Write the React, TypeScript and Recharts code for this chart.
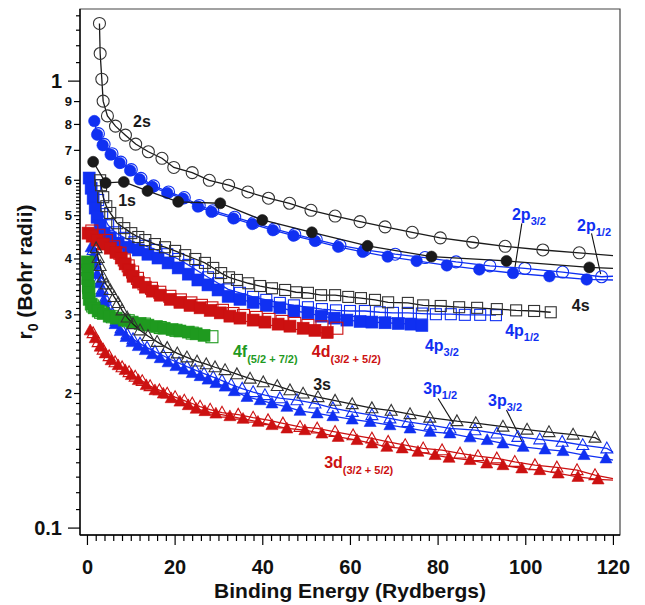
import React from 'react';
import { ScatterChart, Scatter, XAxis, YAxis, ReferenceArea, ReferenceDot, ReferenceLine } from 'recharts';

type P = [number, number];

const X_DOMAIN: [number, number] = [-1.7, 121.5];
const Y_DOMAIN: [number, number] = [0.0965, 1.45];

const xTicks: number[] = Array.from({ length: 61 }, (_, i) => i * 2);
const xMajor: number[] = [0, 20, 40, 60, 80, 100, 120];
const yTicks: number[] = [
  ...Array.from({ length: 51 }, (_, i) => (10 + i) / 100),
  0.7, 0.8, 0.9, 1, 1.1, 1.2, 1.3, 1.4,
];
const yLabelText: Record<number, string> = {
  10: '0.1', 20: '2', 30: '3', 40: '4', 50: '5', 60: '6', 70: '7', 80: '8', 90: '9', 100: '1',
};

// ---- series (Binding energy [Ry], r0 [Bohr radii]) ----
const s2: P[] = [[2.74,1.346],[2.9,1.153],[3.28,1.01],[3.58,0.902],[4.56,0.836],[6.4,0.793],[8.67,0.757],[11.0,0.723],[13.9,0.695],[17.0,0.672],[19.7,0.641],[23.9,0.624],[27.8,0.600],[32.2,0.585],[36.6,0.565],[41.3,0.547],[46.1,0.533],[51.0,0.514],[56.5,0.499],[62.2,0.485],[67.9,0.472],[74.1,0.459],[80.5,0.446],[87.9,0.436],[95.3,0.427],[103.9,0.419],[112.2,0.413]];
const s1: P[] = [[1.3,0.660],[4.15,0.592],[8.3,0.595],[13.7,0.568],[20.7,0.537],[30.3,0.533],[39.9,0.489],[51.2,0.459],[63.9,0.428],[78.5,0.405],[95.6,0.396],[114.5,0.383]];
const p2_32: P[] = [[1.57,0.814],[2.21,0.759],[3.47,0.719],[5.29,0.685],[7.34,0.656],[9.74,0.631],[11.9,0.603],[14.8,0.580],[18.2,0.562],[21.8,0.546],[25.2,0.524],[28.3,0.510],[33.3,0.493],[37.6,0.479],[42.3,0.464],[47.0,0.451],[51.9,0.439],[57.2,0.426],[62.8,0.415],[68.5,0.405],[75.1,0.396],[82.0,0.387],[89.4,0.379],[97.1,0.372],[105.4,0.366],[113.9,0.360]];
const p2_12: P[] = [[2.5,0.763],[3.8,0.722],[5.6,0.688],[7.6,0.659],[10.0,0.634],[12.2,0.606],[15.1,0.583],[18.5,0.565],[22.1,0.549],[25.5,0.527],[28.6,0.513],[33.6,0.496],[37.9,0.482],[42.6,0.467],[47.3,0.454],[52.2,0.442],[57.6,0.429],[63.3,0.419],[70.2,0.410],[77.0,0.403],[84.1,0.394],[91.8,0.386],[99.8,0.381],[108.4,0.374],[117.3,0.365]];
const s4: P[] = [[2.9,0.600],[3.1,0.585],[3.6,0.550],[4.3,0.525],[5.2,0.507],[6.8,0.481],[8.4,0.469],[10.0,0.457],[11.6,0.448],[13.2,0.441],[15.4,0.432],[17.7,0.425],[20.0,0.417],[22.3,0.408],[24.6,0.400],[26.8,0.392],[28.7,0.382],[30.5,0.372],[32.3,0.364],[34.1,0.359],[36.7,0.353],[39.4,0.348],[42.1,0.344],[45.1,0.341],[47.6,0.337],[50.3,0.336],[53.3,0.332],[56.5,0.332],[59.5,0.329],[62.4,0.327],[65.6,0.324],[68.6,0.320],[73.1,0.319],[76.6,0.315],[80.6,0.314],[84.8,0.312],[88.9,0.311],[93.4,0.309],[97.8,0.307],[101.9,0.306],[105.7,0.304]];
const p4_12: P[] = [[1.76,0.585],[2.44,0.542],[3.35,0.504],[4.72,0.476],[6.3,0.459],[8.4,0.446],[10.7,0.436],[13.2,0.428],[15.7,0.419],[18.2,0.410],[20.7,0.400],[23.0,0.388],[25.2,0.376],[27.5,0.364],[29.8,0.353],[32.1,0.342],[34.8,0.336],[37.8,0.329],[40.8,0.324],[43.9,0.319],[47.1,0.315],[50.3,0.312],[53.5,0.309],[56.7,0.307],[59.9,0.306],[63.3,0.306],[66.7,0.304],[69.7,0.303],[73.1,0.303],[76.3,0.302],[79.5,0.301],[82.9,0.301],[86.1,0.300],[89.6,0.300],[93.2,0.2995]];
const p4_32: P[] = [[0.39,0.607],[0.84,0.576],[1.3,0.547],[1.76,0.520],[2.2,0.496],[2.9,0.474],[3.8,0.457],[5.2,0.446],[7.0,0.434],[9.3,0.425],[11.6,0.419],[13.8,0.410],[16.1,0.402],[18.4,0.392],[20.7,0.382],[23.0,0.370],[25.2,0.359],[27.5,0.350],[29.8,0.341],[32.1,0.330],[34.8,0.325],[37.8,0.320],[40.8,0.315],[43.9,0.311],[47.1,0.306],[50.3,0.303],[53.3,0.298],[56.3,0.295],[59.2,0.292],[62.2,0.290],[64.9,0.289],[67.9,0.288],[70.9,0.287],[73.8,0.286],[76.3,0.284]];
const d4_filled: P[] = [[0.16,0.457],[1.07,0.450],[2.2,0.441],[3.6,0.432],[5.2,0.423],[6.5,0.414],[7.7,0.402],[8.6,0.390],[9.5,0.378],[10.4,0.366],[11.6,0.355],[13.2,0.346],[14.8,0.339],[16.6,0.332],[18.9,0.325],[21.1,0.320],[23.4,0.315],[25.7,0.311],[28.0,0.307],[30.3,0.303],[32.5,0.298],[34.8,0.295],[37.8,0.292],[40.5,0.289],[43.5,0.286],[46.2,0.283],[49.2,0.280],[51.9,0.277],[54.7,0.274]];
const d4_open: P[] = [[1.0,0.462],[2.6,0.452],[4.3,0.440],[6.0,0.426],[7.4,0.412],[8.4,0.398],[9.3,0.386],[10.3,0.374],[11.4,0.362],[12.9,0.352],[14.6,0.344],[16.5,0.337],[18.8,0.330],[21.2,0.324],[23.6,0.319],[26.0,0.315],[28.4,0.311],[30.8,0.307],[33.2,0.302],[35.6,0.299],[38.5,0.296],[41.4,0.293],[44.4,0.290],[47.3,0.287],[50.3,0.284],[53.5,0.282],[56.9,0.280]];
const f4_filled: P[] = [[0.0,0.394],[0.0,0.378],[0.05,0.362],[0.16,0.348],[0.27,0.336],[0.39,0.325],[0.84,0.317],[1.53,0.311],[2.44,0.306],[3.58,0.302],[4.95,0.298],[6.55,0.295],[8.4,0.292],[10.2,0.289],[12.0,0.287],[13.8,0.2845],[15.7,0.2825],[17.5,0.280],[19.3,0.278],[21.1,0.276],[23.0,0.2745],[24.8,0.272],[26.6,0.270]];
const f4_open: P[] = [[0.1,0.390],[0.3,0.345],[1.2,0.314],[3.0,0.304],[5.7,0.297],[9.3,0.291],[13.0,0.286],[16.6,0.281],[20.2,0.277],[23.9,0.273],[28.4,0.268]];
const s3: P[] = [[1.98,0.423],[2.44,0.402],[2.9,0.386],[3.58,0.364],[4.26,0.351],[5.18,0.341],[6.09,0.329],[7.0,0.319],[7.9,0.307],[9.05,0.296],[10.4,0.286],[12.0,0.277],[13.8,0.269],[15.9,0.261],[18.2,0.253],[20.5,0.246],[22.7,0.241],[25.0,0.236],[27.1,0.2326],[29.1,0.229],[31.4,0.2257],[34.1,0.221],[37.1,0.216],[40.1,0.212],[43.3,0.208],[46.2,0.2035],[49.2,0.200],[52.6,0.1964],[56.5,0.1928],[60.4,0.1894],[64.9,0.1855],[69.3,0.1831],[73.6,0.1799],[78.1,0.1767],[84.3,0.1735],[88.6,0.1718],[94.8,0.1687],[100.3,0.1661],[105.3,0.1640],[110.8,0.1619],[115.8,0.1594]];
const p3_12: P[] = [[1.3,0.419],[1.76,0.398],[2.2,0.378],[2.67,0.3606],[3.35,0.342],[4.04,0.327],[4.72,0.3137],[5.63,0.301],[6.55,0.2904],[7.7,0.280],[9.05,0.2716],[10.4,0.2647],[12.0,0.2587],[13.6,0.2534],[15.4,0.2482],[17.3,0.243],[19.1,0.238],[20.9,0.2339],[22.7,0.2297],[24.6,0.2257],[26.6,0.2217],[28.7,0.2177],[30.7,0.2138],[32.8,0.2094],[35.3,0.2051],[37.8,0.2015],[40.5,0.1984],[43.9,0.1953],[47.8,0.1933],[51.9,0.1901],[56.0,0.1855],[60.4,0.182],[64.9,0.179],[69.0,0.176],[73.1,0.1728],[78.2,0.1699],[82.7,0.1671],[88.4,0.1656],[93.4,0.1628],[98.2,0.160],[103.2,0.158],[108.3,0.156],[113.0,0.1534],[118.5,0.1508]];
const p3_32: P[] = [[0.84,0.425],[1.3,0.406],[1.76,0.388],[2.2,0.370],[2.67,0.353],[3.12,0.337],[3.8,0.322],[4.5,0.309],[5.4,0.296],[6.3,0.286],[7.46,0.276],[8.8,0.2676],[10.2,0.2607],[11.6,0.2554],[13.2,0.2502],[14.8,0.245],[16.6,0.240],[18.4,0.235],[20.2,0.2304],[22.0,0.2263],[23.9,0.2223],[25.7,0.2188],[27.5,0.2149],[29.3,0.2111],[31.4,0.2073],[33.5,0.2025],[36.4,0.1966],[39.4,0.1933],[42.1,0.1901],[45.5,0.1868],[48.5,0.1830],[52.4,0.1806],[56.0,0.1780],[60.4,0.1750],[64.5,0.1728],[69.0,0.1699],[73.6,0.1671],[78.2,0.1642],[82.7,0.1629],[87.3,0.1596],[91.2,0.1574],[94.8,0.1547],[99.4,0.152],[104.4,0.150],[108.5,0.1487],[113.3,0.1457],[118.3,0.1432]];
const d3_filled: P[] = [[0.62,0.277],[1.76,0.266],[2.9,0.2547],[4.04,0.246],[5.4,0.2375],[7.0,0.2315],[8.6,0.2257],[10.0,0.22],[11.6,0.2144],[13.4,0.2089],[15.4,0.2035],[17.3,0.200],[19.1,0.1953],[21.1,0.1919],[23.0,0.1884],[24.8,0.185],[26.8,0.1827],[29.3,0.1804],[32.5,0.178],[35.5,0.1756],[38.9,0.1729],[42.1,0.170],[45.5,0.1671],[49.6,0.1656],[53.5,0.1628],[57.2,0.160],[61.5,0.1574],[64.9,0.1547],[68.3,0.1520],[71.8,0.1508],[75.4,0.1482],[79.3,0.1457],[82.5,0.1437],[87.3,0.142],[91.1,0.1395],[94.8,0.1383],[99.1,0.136],[103.2,0.1348],[107.4,0.1325],[111.9,0.1302],[116.5,0.1285]];
const d3_open: P[] = [[1.3,0.273],[2.44,0.2607],[3.58,0.2508],[4.95,0.2425],[6.3,0.235],[7.9,0.229],[9.5,0.2234],[10.9,0.2183],[12.5,0.2133],[14.3,0.2078],[16.4,0.2035],[18.2,0.200],[20.0,0.1964],[22.1,0.1929],[23.9,0.190],[25.7,0.1870],[28.0,0.1841],[30.7,0.1813],[34.4,0.1794],[37.8,0.1767],[41.2,0.1744],[44.6,0.1715],[48.5,0.1685],[52.4,0.1671],[56.5,0.1642],[60.6,0.1614],[64.9,0.1587],[68.6,0.156],[72.5,0.1534],[76.6,0.1508],[80.9,0.1494],[85.0,0.1469],[89.1,0.1449],[93.4,0.1432],[97.5,0.1407],[102.1,0.1383],[107.1,0.1367],[111.7,0.1348],[115.8,0.1314]];

// where the fitted curves run on past the last point
const tail2s: P = [119.9, 0.407];
const tail1s: P = [119.9, 0.381];
const tail2p32: P = [119.9, 0.359];
const tail2p12: P = [119.9, 0.366];
const tail3s: P = [116.9, 0.157];
const tail3p12: P = [119.9, 0.148];
const tail3p32: P = [119.9, 0.142];
const tail3dF: P = [119.9, 0.128];
const tail3dO: P = [119.9, 0.129];

const BLACK = '#1a1a1a';
const GRAY = '#333333';
const BLUE = '#1030f2';
const RED = '#cc1111';
const GREEN = '#1f9a1f';
const FONT = '"Liberation Sans", Arial, sans-serif';

type Kind = 'circle' | 'square' | 'triangle';

const toPts = (arr: P[]) => arr.map(([x, y]) => ({ x, y }));

const makeShape = (kind: Kind, color: string, filled: boolean, size: number, bg?: string) => (props: any) => {
  const { cx, cy } = props;
  if (cx == null || cy == null || isNaN(cx) || isNaN(cy)) return <g />;
  const fill = filled ? color : bg || 'none';
  const sw = filled ? 0.6 : 1.1;
  if (kind === 'circle') {
    return <circle cx={cx} cy={cy} r={size / 2} fill={fill} stroke={color} strokeWidth={sw} />;
  }
  if (kind === 'square') {
    const h = size / 2;
    return <rect x={cx - h} y={cy - h} width={size} height={size} fill={fill} stroke={color} strokeWidth={sw} />;
  }
  const h = size * 0.9;
  const pts = `${cx},${cy - h * 0.58} ${cx - size / 2},${cy + h * 0.42} ${cx + size / 2},${cy + h * 0.42}`;
  return <polygon points={pts} fill={fill} stroke={color} strokeWidth={sw} strokeLinejoin="miter" />;
};

const Empty = () => <g />;

const YTick = (props: any) => {
  const { x, y, payload } = props;
  const r = Math.round(payload.value * 100);
  const labelled = r % 10 === 0 && r <= 100;
  const big = r === 10 || r === 100;
  const len = big ? 12 : labelled ? 6 : 4;
  return (
    <g>
      <line x1={x} x2={x - len} y1={y} y2={y} stroke="#000" strokeWidth={1.2} />
      {labelled && (
        <text
          x={x - len - (big ? 6 : 2)}
          y={y}
          dy={big ? 7 : 4.5}
          textAnchor="end"
          fontSize={big ? 20 : 13}
          fontWeight="bold"
          fontFamily={FONT}
          fill="#111"
        >
          {yLabelText[r]}
        </text>
      )}
    </g>
  );
};

const XTick = (props: any) => {
  const { x, y, payload } = props;
  const v = payload.value;
  const major = xMajor.includes(v);
  return (
    <g>
      <line x1={x} x2={x} y1={y} y2={y + (major ? 10 : 6)} stroke="#000" strokeWidth={1.2} />
      {major && (
        <text x={x} y={y + 39} textAnchor="middle" fontSize={20} fontWeight="bold" fontFamily={FONT} fill="#111">
          {v}
        </text>
      )}
    </g>
  );
};

const XTitle = (props: any) => {
  const vb = props.viewBox || { x: 80, y: 535, width: 540, height: 70 };
  return (
    <text x={vb.x + vb.width / 2} y={vb.y + 63} textAnchor="middle" fontSize={21} fontWeight="bold" fontFamily={FONT} fill="#111">
      Binding Energy (Rydbergs)
    </text>
  );
};

const YTitle = (props: any) => {
  const vb = props.viewBox || { x: 0, y: 9, width: 80, height: 526 };
  const cx = vb.x + 32;
  const cy = vb.y + vb.height / 2;
  return (
    <text
      x={cx}
      y={cy}
      transform={`rotate(-90 ${cx} ${cy})`}
      textAnchor="middle"
      fontSize={21}
      fontWeight="bold"
      fontFamily={FONT}
      fill="#111"
    >
      <tspan>r</tspan>
      <tspan fontSize={14} dy={6}>0</tspan>
      <tspan dy={-6}> (Bohr radii)</tspan>
    </text>
  );
};

const annotations = [
  { x: 10.42, y: 0.789, text: '2s', sub: '', color: BLACK },
  { x: 7.0, y: 0.525, text: '1s', sub: '', color: BLACK },
  { x: 96.85, y: 0.489, text: '2p', sub: '3/2', color: BLUE },
  { x: 111.7, y: 0.462, text: '2p', sub: '1/2', color: BLUE },
  { x: 110.5, y: 0.306, text: '4s', sub: '', color: BLACK },
  { x: 95.3, y: 0.269, text: '4p', sub: '1/2', color: BLUE },
  { x: 77.0, y: 0.249, text: '4p', sub: '3/2', color: BLUE },
  { x: 33.2, y: 0.2413, text: '4f', sub: '(5/2 + 7/2)', color: GREEN },
  { x: 51.2, y: 0.2413, text: '4d', sub: '(3/2 + 5/2)', color: RED },
  { x: 51.5, y: 0.2035, text: '3s', sub: '', color: BLACK },
  { x: 76.6, y: 0.1995, text: '3p', sub: '1/2', color: BLUE },
  { x: 91.4, y: 0.1875, text: '3p', sub: '3/2', color: BLUE },
  { x: 54.0, y: 0.1362, text: '3d', sub: '(3/2 + 5/2)', color: RED },
];

const leaders: { from: P; to: P }[] = [
  { from: [99.1, 0.4805], to: [97.5, 0.381] },
  { from: [115.0, 0.4563], to: [117.1, 0.370] },
  { from: [80.0, 0.195], to: [83.5, 0.1715] },
  { from: [95.6, 0.1837], to: [99.3, 0.1552] },
];

const labelShape = (a: typeof annotations[number]) => (props: any) => {
  const { cx, cy } = props;
  if (cx == null || cy == null) return <g />;
  return (
    <text x={cx} y={cy} fontSize={16} fontWeight="bold" fontFamily={FONT} fill={a.color}>
      <tspan>{a.text}</tspan>
      {a.sub && (
        <tspan fontSize={11} dy={a.sub.length > 4 ? 6 : 5}>
          {a.sub}
        </tspan>
      )}
    </text>
  );
};

type SeriesDef = {
  name: string;
  data: P[];
  kind: Kind;
  color: string;
  filled: boolean;
  size: number;
  lineColor?: string;
  tail?: P;
  bg?: string;
};

const seriesDefs: SeriesDef[] = [
  { name: '3d open', data: d3_open, kind: 'triangle', color: RED, filled: false, size: 12, lineColor: RED, tail: tail3dO },
  { name: '3d filled', data: d3_filled, kind: 'triangle', color: RED, filled: true, size: 12, lineColor: RED, tail: tail3dF },
  { name: '3p1/2', data: p3_12, kind: 'triangle', color: BLUE, filled: false, size: 12, lineColor: BLUE, tail: tail3p12 },
  { name: '3p3/2', data: p3_32, kind: 'triangle', color: BLUE, filled: true, size: 12, lineColor: BLUE, tail: tail3p32 },
  { name: '4p1/2', data: p4_12, kind: 'square', color: BLUE, filled: false, size: 11, lineColor: BLUE },
  { name: '4p3/2', data: p4_32, kind: 'square', color: BLUE, filled: true, size: 12, lineColor: BLUE },
  { name: '4d open', data: d4_open, kind: 'square', color: RED, filled: false, size: 12 },
  { name: '4d filled', data: d4_filled, kind: 'square', color: RED, filled: true, size: 12 },
  { name: '4f open', data: f4_open, kind: 'square', color: GREEN, filled: false, size: 12, bg: '#ffffff' },
  { name: '4f filled', data: f4_filled, kind: 'square', color: GREEN, filled: true, size: 12 },
  { name: '3s', data: s3, kind: 'triangle', color: GRAY, filled: false, size: 12, lineColor: BLACK, tail: tail3s },
  { name: '4s', data: s4, kind: 'square', color: GRAY, filled: false, size: 11, lineColor: BLACK },
  { name: '2p1/2', data: p2_12, kind: 'circle', color: BLUE, filled: false, size: 12, lineColor: BLUE, tail: tail2p12 },
  { name: '2p3/2', data: p2_32, kind: 'circle', color: BLUE, filled: true, size: 11.5, lineColor: BLUE, tail: tail2p32 },
  { name: '1s', data: s1, kind: 'circle', color: BLACK, filled: true, size: 11, lineColor: BLACK, tail: tail1s },
  { name: '2s', data: s2, kind: 'circle', color: GRAY, filled: false, size: 12, lineColor: BLACK, tail: tail2s },
];

export default function App() {
  return (
    <div style={{ position: 'absolute', left: 0, top: 0, background: '#fff', fontFamily: FONT }}>
      <ScatterChart width={645} height={605} margin={{ top: 9, right: 25, bottom: 0, left: 0 }}>
        <XAxis
          type="number"
          dataKey="x"
          domain={X_DOMAIN}
          allowDataOverflow
          ticks={xTicks}
          interval={0}
          tick={(p: any) => <XTick {...p} />}
          tickLine={false}
          tickSize={0}
          tickMargin={0}
          height={70}
          axisLine={{ stroke: '#000', strokeWidth: 1.3 }}
          label={{ content: (p: any) => <XTitle {...p} /> }}
        />
        <YAxis
          type="number"
          dataKey="y"
          scale="log"
          domain={Y_DOMAIN}
          allowDataOverflow
          ticks={yTicks}
          interval={0}
          width={80}
          tick={(p: any) => <YTick {...p} />}
          tickLine={false}
          tickSize={0}
          tickMargin={0}
          axisLine={{ stroke: '#000', strokeWidth: 1.3 }}
          label={{ content: (p: any) => <YTitle {...p} /> }}
        />
        <ReferenceArea
          x1={X_DOMAIN[0]}
          x2={X_DOMAIN[1]}
          y1={Y_DOMAIN[0]}
          y2={Y_DOMAIN[1]}
          fill="none"
          fillOpacity={0}
          stroke="#444"
          strokeWidth={1.2}
          ifOverflow="visible"
        />
        {seriesDefs.flatMap((s) => {
          const out: React.ReactNode[] = [];
          if (s.lineColor) {
            const lineData = s.tail ? [...s.data, s.tail] : s.data;
            out.push(
              <Scatter
                key={s.name + '-line'}
                name={s.name + ' fit'}
                data={toPts(lineData)}
                line={{ stroke: s.lineColor, strokeWidth: 1.3 }}
                shape={Empty}
                legendType="none"
                isAnimationActive={false}
              />
            );
          }
          out.push(
            <Scatter
              key={s.name}
              name={s.name}
              data={toPts(s.data)}
              shape={makeShape(s.kind, s.color, s.filled, s.size, s.bg)}
              legendType="none"
              isAnimationActive={false}
            />
          );
          return out;
        })}
        {leaders.map((l, i) => (
          <ReferenceLine
            key={'leader' + i}
            segment={[{ x: l.from[0], y: l.from[1] }, { x: l.to[0], y: l.to[1] }]}
            stroke="#111"
            strokeWidth={1.1}
            ifOverflow="visible"
          />
        ))}
        {annotations.map((a, i) => (
          <ReferenceDot key={'ann' + i} x={a.x} y={a.y} r={0} ifOverflow="visible" shape={labelShape(a)} />
        ))}
      </ScatterChart>
    </div>
  );
}
